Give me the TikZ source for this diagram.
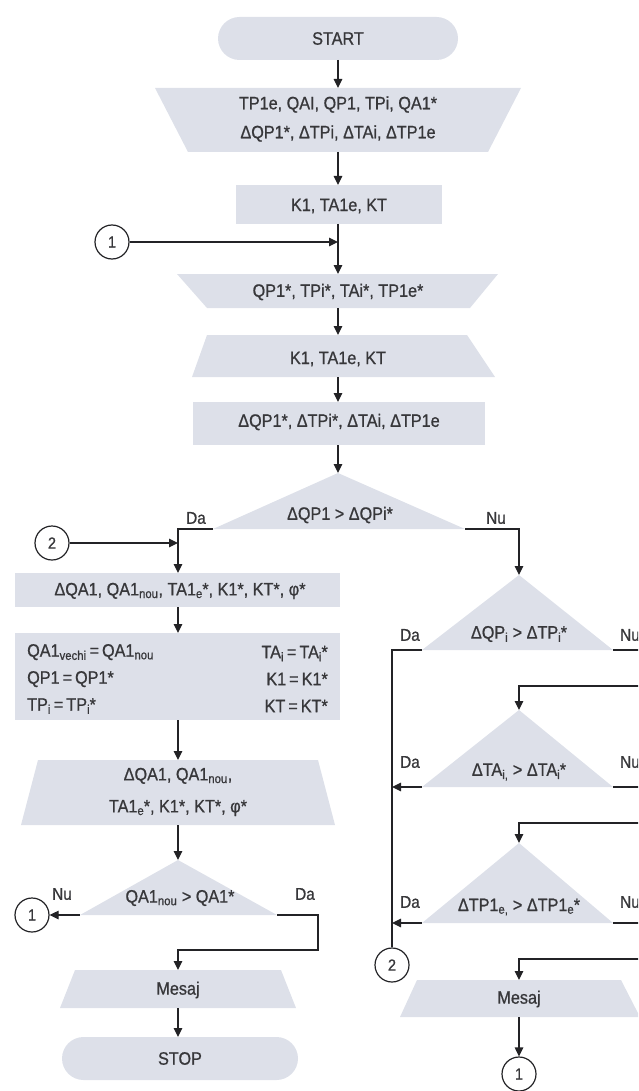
\documentclass[tikz,border=0pt]{standalone}
\usepackage{fontspec}
\setmainfont{Liberation Sans}[FakeStretch=0.9,FakeBold=0.8]
\usetikzlibrary{arrows.meta}
\definecolor{shp}{RGB}{221,224,233}
\definecolor{ink}{RGB}{55,55,58}
\definecolor{wire}{RGB}{35,35,38}
\newcommand\sbs[1]{\textsubscript{#1}\kern-0.5pt*}
\begin{document}
\begin{tikzpicture}[x=1pt,y=-1pt,
  conn/.style={draw=wire, line width=1.2pt},
  arr/.style={conn, -{Triangle[length=9pt,width=8.5pt]}},
  txt/.style={text=ink, font=\fontsize{18}{29}\selectfont, inner sep=0pt, align=center},
  lbl/.style={text=ink, font=\fontsize{17}{19}\selectfont, inner sep=0pt},
  conncirc/.style={circle, draw=wire, line width=1.2pt, fill=white, minimum size=34pt, inner sep=0pt, text=ink, font=\fontsize{16}{18}\selectfont},
  shp/.style={fill=shp}]
\useasboundingbox (0,0) rectangle (638,1091);
\clip (0,0) rectangle (638,1091);

% ---------- shapes (left / main column) ----------
\fill[shp, rounded corners=21.5pt] (218,17) rectangle (458,60);
\node[txt] (start) at (338,38.5) {START};
\coordinate (startB) at (338,60);

\fill[shp] (155,88) -- (521,88) -- (488,152) -- (188,152) -- cycle;
\node[txt] (in1) at (338,119) {TP1e, QAI, QP1, TPi, QA1*\\ΔQP1*, ΔTPi, ΔTAi, ΔTP1e};
\coordinate (in1T) at (338,88); \coordinate (in1B) at (338,152);

\fill[shp] (236,185) rectangle (442,224);
\node[txt] (r1) at (339,206) {K1, TA1e, KT};
\coordinate (r1T) at (338,185); \coordinate (r1B) at (338,224);

\node[conncirc] (c1a) at (112,242) {1};
\coordinate (j1) at (338,242);

\fill[shp] (177,274) -- (498,274) -- (470,308) -- (207,308) -- cycle;
\node[txt] (in2) at (338,292) {QP1*, TPi*, TAi*, TP1e*};
\coordinate (in2T) at (338,274); \coordinate (in2B) at (338,308);

\fill[shp] (207,335) -- (467,335) -- (495,377) -- (192,377) -- cycle;
\node[txt] (t3) at (338,359) {K1, TA1e, KT};
\coordinate (t3T) at (338,335); \coordinate (t3B) at (338,377);

\fill[shp] (193,402) rectangle (485,445);
\node[txt] (r3) at (339,422) {ΔQP1*, ΔTPi*, ΔTAi, ΔTP1e};
\coordinate (r3T) at (338,402); \coordinate (r3B) at (338,445);

\fill[shp] (338,473) -- (465,529) -- (213,529) -- cycle;
\node[txt] (d1) at (340,515) {ΔQP1 > ΔQPi*};
\coordinate (d1T) at (338,473); \coordinate (d1L) at (213,529); \coordinate (d1R) at (465,529);
\node[lbl] (d1da) at (196,518) {Da};
\node[lbl] (d1nu) at (496,518) {Nu};

\node[conncirc] (c2a) at (52,543) {2};
\coordinate (j2) at (178,543);

\fill[shp] (15,573) rectangle (340,607);
\node[txt] (r4) at (180,591) {ΔQA1, QA1\textsubscript{nou}, TA1\sbs{e}, K1*, KT*, φ*};
\coordinate (r4T) at (178,573); \coordinate (r4B) at (178,607);

\fill[shp] (15,633) rectangle (340,720);
\node[txt, anchor=west, align=left, font=\fontsize{18}{27}\selectfont] (r5l) at (27,679)
  {QA1\textsubscript{vechi}\,=\,QA1\textsubscript{nou}\\QP1\,=\,QP1*\\TP\textsubscript{i}\,=\,TP\sbs{i}};
\node[txt, anchor=east, align=right, font=\fontsize{18}{27}\selectfont] (r5r) at (328,679)
  {TA\textsubscript{i}\,=\,TA\sbs{i}\\K1\,=\,K1*\\KT\,=\,KT*};
\coordinate (r5T) at (178,633); \coordinate (r5B) at (178,720);

\fill[shp] (38,760) -- (318,760) -- (335,825) -- (21,825) -- cycle;
\node[txt, font=\fontsize{18}{32}\selectfont] (t4) at (178,792) {ΔQA1, QA1\textsubscript{nou},\\TA1\sbs{e}, K1*, KT*, φ*};
\coordinate (t4T) at (178,760); \coordinate (t4B) at (178,825);

\fill[shp] (178,860) -- (277,915) -- (80,915) -- cycle;
\node[txt] (d4) at (180,898) {QA1\textsubscript{nou} > QA1*};
\coordinate (d4T) at (178,860); \coordinate (d4L) at (80,915); \coordinate (d4R) at (277,915);
\node[lbl] (d4nu) at (62,894) {Nu};
\node[lbl] (d4da) at (305,894) {Da};
\node[conncirc] (c1b) at (32,915) {1};
\coordinate (d4k1) at (318,915); \coordinate (d4k2) at (318,950);

\fill[shp] (75,970) -- (281,970) -- (296,1008) -- (60,1008) -- cycle;
\node[txt] (m1) at (178,990) {Mesaj};
\coordinate (m1T) at (178,970); \coordinate (m1B) at (178,1008);

\fill[shp, rounded corners=21.5pt] (62,1037) rectangle (298,1080);
\node[txt] (stop) at (180,1058.5) {STOP};
\coordinate (stopT) at (178,1037);

% ---------- right column ----------
\fill[shp] (519,575) -- (613,650) -- (422,650) -- cycle;
\node[txt] (d2) at (519,634) {ΔQP\textsubscript{i} > ΔTP\sbs{i}};
\coordinate (d2T) at (519,575); \coordinate (d2L) at (422,650); \coordinate (d2R) at (613,650);
\node[lbl] (d2da) at (410,635) {Da};
\node[lbl, anchor=west] (d2nu) at (620,635) {Nu};
\coordinate (vL) at (392,650);

\fill[shp] (519,710) -- (613,787) -- (422,787) -- cycle;
\node[txt] (d3) at (519,772) {ΔTA\textsubscript{i,} > ΔTA\sbs{i}};
\coordinate (d3T) at (519,710); \coordinate (d3L) at (422,787); \coordinate (d3R) at (613,787);
\node[lbl] (d3da) at (410,762) {Da};
\node[lbl, anchor=west] (d3nu) at (620,762) {Nu};
\coordinate (v3) at (392,787);

\fill[shp] (519,843) -- (613,923) -- (422,923) -- cycle;
\node[txt] (d5) at (519,907) {ΔTP1\textsubscript{e,} > ΔTP1\sbs{e}};
\coordinate (d5T) at (519,843); \coordinate (d5L) at (422,923); \coordinate (d5R) at (613,923);
\node[lbl] (d5da) at (410,902) {Da};
\node[lbl, anchor=west] (d5nu) at (620,902) {Nu};
\coordinate (v5) at (392,923);

\node[conncirc] (c2b) at (392,965) {2};

\fill[shp] (417,980) -- (621,980) -- (640,1017) -- (400,1017) -- cycle;
\node[txt] (m2) at (519,999) {Mesaj};
\coordinate (m2T) at (519,980); \coordinate (m2B) at (519,1017);

\node[conncirc] (c1c) at (519,1074) {1};

% right-edge (cropped) coordinates
\coordinate (e2) at (645,650);
\coordinate (e3a) at (645,686);
\coordinate (e3) at (645,787);
\coordinate (e5a) at (645,823);
\coordinate (e5) at (645,923);
\coordinate (e6) at (645,959);

% ---------- connectors ----------
\draw[arr] (startB) -- (in1T);
\draw[arr] (in1B) -- (r1T);
\draw[arr] (r1B) -- (in2T);
\draw[arr] (c1a) -- (j1);
\draw[arr] (in2B) -- (t3T);
\draw[arr] (t3B) -- (r3T);
\draw[arr] (r3B) -- (d1T);
\draw[arr] (d1L) -| (r4T);
\draw[arr] (c2a) -- (j2);
\draw[arr] (d1R) -| (d2T);
\draw[arr] (r4B) -- (r5T);
\draw[arr] (r5B) -- (t4T);
\draw[arr] (t4B) -- (d4T);
\draw[arr] (d4L) -- (c1b);
\draw[arr] (d4R) -- (d4k1) -- (d4k2) -| (m1T);
\draw[arr] (m1B) -- (stopT);

\draw[conn] (d2L) -- (vL) -- (c2b);
\draw[conn] (d2R) -- (e2);
\draw[arr] (e3a) -| (d3T);
\draw[arr] (d3L) -- (v3);
\draw[conn] (d3R) -- (e3);
\draw[arr] (e5a) -| (d5T);
\draw[arr] (d5L) -- (v5);
\draw[conn] (d5R) -- (e5);
\draw[arr] (e6) -| (m2T);
\draw[arr] (m2B) -- (c1c);
\end{tikzpicture}
\end{document}
